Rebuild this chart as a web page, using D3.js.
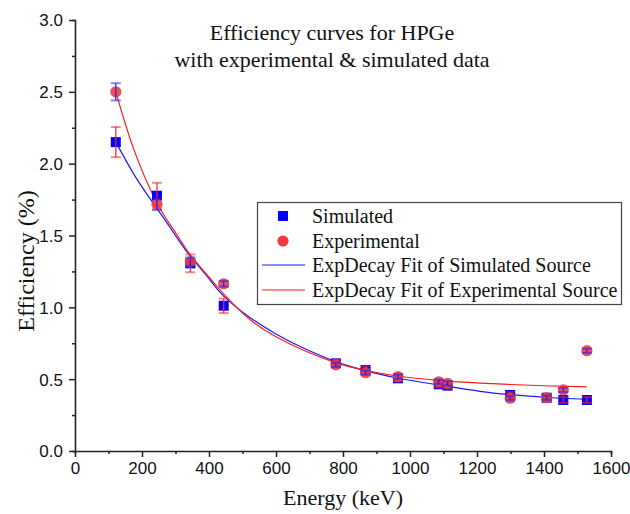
<!DOCTYPE html>
<html>
<head>
<meta charset="utf-8">
<script src="https://cdn.jsdelivr.net/npm/d3@7"></script>
<style>
  body { margin: 0; background: #fff; }
  svg { font-family: "Liberation Serif", "DejaVu Serif", serif; }
</style>
</head>
<body>
<svg width="630" height="514"></svg>
<script>
// energies (keV)
const energies = [121.8, 244.7, 344.3, 443.9, 778.9, 867.4, 964.1, 1085.8, 1112.1, 1299.1, 1408.0, 1457.6, 1528.1];
// simulated efficiency (%) and its error
const simulated = [2.15, 1.777, 1.306, 1.011, 0.61, 0.564, 0.506, 0.464, 0.455, 0.39, 0.371, 0.355, 0.355];
const simErr = [0.105, 0.09, 0.062, 0.05, 0.025, 0.025, 0.02, 0.02, 0.02, 0.02, 0.02, 0.02, 0.02];
// experimental efficiency (%) and its error
const experimental = [2.50, 1.717, 1.317, 1.164, 0.60, 0.545, 0.517, 0.482, 0.471, 0.367, 0.371, 0.425, 0.698];
const expErr = [0.06, 0.04, 0.03, 0.02, 0.015, 0.015, 0.015, 0.015, 0.015, 0.015, 0.015, 0.015, 0.015];

// fitted curves
const simFit = [[122, 2.15], [180, 1.91], [244, 1.69], [300, 1.50], [343, 1.36], [400, 1.20], [443, 1.08], [522, 0.93],
  [600, 0.815], [672, 0.727], [778, 0.622], [866, 0.56], [963, 0.508], [1085, 0.46], [1209, 0.415], [1300, 0.392],
  [1400, 0.374], [1528, 0.36]];
const expFit = [[122, 2.50], [174, 2.11], [244, 1.73], [300, 1.52], [343, 1.37], [400, 1.21], [443, 1.095], [522, 0.915],
  [600, 0.795], [672, 0.712], [778, 0.615], [866, 0.562], [963, 0.522], [1085, 0.492], [1209, 0.473], [1300, 0.463],
  [1400, 0.454], [1528, 0.447]];

const yTicks = [0, 0.5, 1.0, 1.5, 2.0, 2.5, 3.0];

const svg = d3.select("svg");
const x = d3.scaleLinear().domain([0, 1600]).range([75, 611]);
const y = d3.scaleLinear().domain([0, 3]).range([451, 20]);

// axes
const axisCol = "#222";
const xAxis = svg.append("g").attr("transform", "translate(0,451)");
xAxis.call(d3.axisBottom(x).tickValues(d3.range(0, 1601, 100)).tickSize(3).tickFormat(""));
xAxis.call(g => g.selectAll(".tick").filter(d => d % 200 === 0).select("line").attr("y2", 6));
xAxis.selectAll(".tick").filter(d => d % 200 === 0).append("text")
  .attr("y", 23).attr("text-anchor", "middle").attr("fill", "#111")
  .style("font-size", "17px").text(d => d);

const yAxis = svg.append("g").attr("transform", "translate(75,0)");
yAxis.call(d3.axisLeft(y).tickValues(d3.range(0, 3.01, 0.25)).tickSize(3).tickFormat(""));
yAxis.call(g => g.selectAll(".tick").filter(d => yTicks.some(t => Math.abs(t - d) < 1e-6)).select("line").attr("x2", -6));
yAxis.selectAll(".tick").filter(d => yTicks.some(t => Math.abs(t - d) < 1e-6)).append("text")
  .attr("x", -12).attr("dy", "0.35em").attr("text-anchor", "end").attr("fill", "#111")
  .style("font-size", "17px").text(d => d3.format(".1f")(d));

svg.selectAll(".domain").attr("stroke", axisCol).attr("stroke-width", 1.6);
svg.selectAll(".tick line").attr("stroke", axisCol).attr("stroke-width", 1.5);

// axis titles
svg.append("text").attr("x", 343).attr("y", 505).attr("text-anchor", "middle")
  .style("font-size", "22px").attr("fill", "#111").text("Energy (keV)");
svg.append("text").attr("transform", "translate(34,261) rotate(-90)").attr("text-anchor", "middle")
  .style("font-size", "24px").attr("fill", "#111").text("Efficiency (%)");

// title
svg.append("text").attr("x", 332).attr("y", 40).attr("text-anchor", "middle")
  .style("font-size", "22px").attr("fill", "#111").text("Efficiency curves for HPGe");
svg.append("text").attr("x", 332).attr("y", 67).attr("text-anchor", "middle")
  .style("font-size", "22px").attr("fill", "#111").text("with experimental & simulated data");

// fit lines
const line = d3.line().x(d => x(d[0])).y(d => y(d[1])).curve(d3.curveNatural);
svg.append("path").datum(simFit).attr("d", line).attr("fill", "none").attr("stroke", "#1a1aff").attr("stroke-width", 1.2);
svg.append("path").datum(expFit).attr("d", line).attr("fill", "none").attr("stroke", "#ff1a1a").attr("stroke-width", 1.2);

const sim = energies.map((e, i) => ({ e, v: simulated[i], err: simErr[i] }));
const exp = energies.map((e, i) => ({ e, v: experimental[i], err: expErr[i] }));

function errorBars(data, col) {
  const g = svg.append("g");
  g.selectAll("line.v").data(data).enter().append("line")
    .attr("x1", d => x(d.e)).attr("x2", d => x(d.e))
    .attr("y1", d => y(d.v - d.err)).attr("y2", d => y(d.v + d.err))
    .attr("stroke", col).attr("stroke-width", 1.2);
  [-1, 1].forEach(s => {
    g.selectAll("line.c" + s).data(data).enter().append("line")
      .attr("x1", d => x(d.e) - 5).attr("x2", d => x(d.e) + 5)
      .attr("y1", d => y(d.v + s * d.err)).attr("y2", d => y(d.v + s * d.err))
      .attr("stroke", col).attr("stroke-opacity", 0.55).attr("stroke-width", 2);
  });
}

// simulated squares
svg.append("g").selectAll("rect").data(sim).enter().append("rect")
  .attr("x", d => x(d.e) - 5).attr("y", d => y(d.v) - 5)
  .attr("width", 10).attr("height", 10).attr("fill", "#0000ff");
errorBars(sim, "#ff2020");

// experimental circles
svg.append("g").selectAll("circle").data(exp).enter().append("circle")
  .attr("cx", d => x(d.e)).attr("cy", d => y(d.v)).attr("r", 5.6)
  .attr("fill", "#f03c3c").attr("fill-opacity", 0.9);
errorBars(exp, "#2020ff");

// legend
const lg = svg.append("g");
lg.append("rect").attr("x", 257.5).attr("y", 202.5).attr("width", 364).attr("height", 102)
  .attr("fill", "#fff").attr("stroke", "#444").attr("stroke-width", 1.2);
const rows = [
  { label: "Simulated", type: "square", col: "#0000ff", cy: 216 },
  { label: "Experimental", type: "circle", col: "#f03c3c", cy: 241 },
  { label: "ExpDecay Fit of Simulated Source", type: "line", col: "#1a1aff", cy: 265 },
  { label: "ExpDecay Fit of Experimental Source", type: "line", col: "#ff1a1a", cy: 290 }
];
rows.forEach(r => {
  if (r.type === "square") lg.append("rect").attr("x", 278).attr("y", r.cy - 5).attr("width", 10).attr("height", 10).attr("fill", r.col);
  if (r.type === "circle") lg.append("circle").attr("cx", 283).attr("cy", r.cy).attr("r", 5.6).attr("fill", r.col);
  if (r.type === "line") lg.append("line").attr("x1", 262).attr("x2", 305).attr("y1", r.cy).attr("y2", r.cy).attr("stroke", r.col).attr("stroke-width", 1.2);
  lg.append("text").attr("x", 312).attr("y", r.cy).attr("dy", "0.35em")
    .style("font-size", "20px").attr("fill", "#111").text(r.label);
});
</script>
</body>
</html>
